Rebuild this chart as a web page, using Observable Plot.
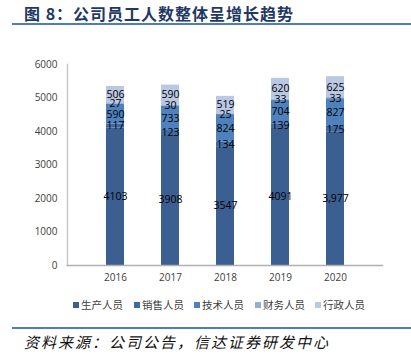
<!DOCTYPE html>
<html>
<head>
<meta charset="utf-8">
<script src="https://cdn.jsdelivr.net/npm/d3@7"></script>
<script src="https://cdn.jsdelivr.net/npm/@observablehq/plot@0.6"></script>
<style>
  html, body { margin: 0; padding: 0; background: #fff; }
  body { width: 411px; height: 361px; position: relative; overflow: hidden; font-family: "Noto Sans CJK SC", "Open Sans", sans-serif; }
  #title { position: absolute; left: 24px; top: 3px; font-size: 16px; font-weight: bold; color: #1f3864; letter-spacing: 1px; font-family: "Noto Sans CJK SC", serif; line-height: 20px; white-space: nowrap; }
  .hr { position: absolute; left: 12px; right: 0; height: 2px; background: #4a7ccc; }
  #chart { position: absolute; left: 0; top: 30px; }
  #legend { position: absolute; left: 0; top: 298px; width: 411px; height: 14px; }
  .item { position: absolute; top: 0; font-size: 10.5px; color: #404040; line-height: 14px; white-space: nowrap; }
  .sw { display: inline-block; width: 6px; height: 6px; margin-right: 2px; vertical-align: 1px; }
  #caption { position: absolute; left: 24px; top: 332px; font-size: 15px; font-style: italic; letter-spacing: 2px; color: #111; line-height: 20px; white-space: nowrap; }
</style>
</head>
<body>
<div id="title">图 8：公司员工人数整体呈增长趋势</div>
<div class="hr" style="top:23px"></div>
<div id="chart"></div>
<div id="legend"></div>
<div class="hr" style="top:327px"></div>
<div id="caption">资料来源：公司公告，信达证券研发中心</div>
<script>
const years = ["2016", "2017", "2018", "2019", "2020"];
const seriesNames = ["生产人员", "销售人员", "技术人员", "财务人员", "行政人员"];
const production = [4103, 3908, 3547, 4091, 3977];
const sales = [117, 123, 134, 139, 175];
const tech = [590, 733, 824, 704, 827];
const finance = [27, 30, 25, 33, 33];
const admin = [506, 590, 519, 620, 625];
const productionLabels = ["4103", "3908", "3547", "4091", "3,977"];
const yTicks = [0, 1000, 2000, 3000, 4000, 5000, 6000];
const colors = ["#3c5f91", "#4069a3", "#4f81bd", "#93afd9", "#bac8e3"];

const seriesValues = [production, sales, tech, finance, admin];
const data = [];
seriesValues.forEach((vals, si) => {
  vals.forEach((v, i) => {
    data.push({
      year: years[i],
      series: seriesNames[si],
      value: v,
      label: si === 0 ? productionLabels[i] : String(v)
    });
  });
});

const chart = Plot.plot({
  width: 411,
  height: 260,
  marginLeft: 67,
  marginRight: 29,
  marginTop: 34,
  marginBottom: 25,
  style: { fontFamily: "'Open Sans', sans-serif", fontSize: "10px", color: "#404040", background: "transparent" },
  x: { domain: years, padding: 0.68, label: null },
  y: { domain: [0, 6000], ticks: yTicks, label: null },
  color: { domain: seriesNames, range: colors },
  marks: [
    Plot.barY(data, Plot.stackY({ x: "year", y: "value", z: "series", fill: "series", order: seriesNames })),
    Plot.text(data, Plot.stackY({ x: "year", y: "value", z: "series", text: "label", order: seriesNames, fill: "#000", fontSize: 10.5 })),
    Plot.axisY({ ticks: yTicks, tickSize: 0, tickPadding: 10, tickFormat: d => String(d), label: null, fill: "#404040" }),
    Plot.axisX({ tickSize: 0, tickPadding: 8, label: null, fill: "#404040" }),
    Plot.frame({ anchor: "left", stroke: "#c8c8c8", strokeWidth: 1.5 }),
    Plot.frame({ anchor: "bottom", stroke: "#b0b0b0", strokeWidth: 1.5 })
  ]
});
document.getElementById("chart").appendChild(chart);

const legend = document.getElementById("legend");
const legendX = [73, 134, 194, 255, 315];
seriesNames.forEach((name, i) => {
  const it = document.createElement("div");
  it.className = "item";
  it.style.left = legendX[i] + "px";
  it.innerHTML = `<span class="sw" style="background:${colors[i]}"></span>${name}`;
  legend.appendChild(it);
});
</script>
</body>
</html>
